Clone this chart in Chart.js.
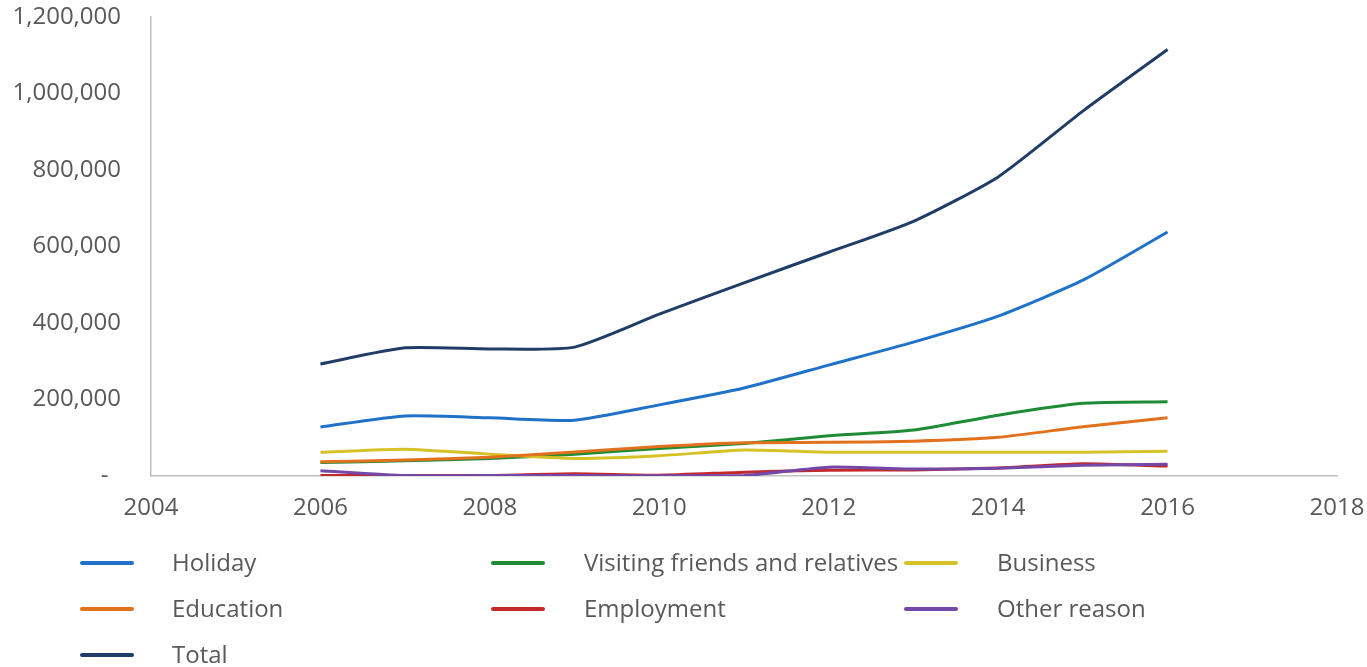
<!DOCTYPE html>
<html>
<head>
<meta charset="utf-8">
<script src="https://cdn.jsdelivr.net/npm/chart.js@4/dist/chart.umd.min.js"></script>
<style>
  html, body { margin: 0; padding: 0; background: #fff; }
  #wrap { position: relative; width: 1367px; height: 667px; }
  #c { position: absolute; left: 0; top: 0; }
  #legend { position: absolute; left: 0; top: 0; width: 1367px; height: 667px; pointer-events: none;
            font-family: "Open Sans", sans-serif; font-size: 24px; color: #595959; }
  .item { position: absolute; height: 34px; display: flex; align-items: center; white-space: nowrap; }
  .swatch { position: absolute; height: 4px; border-radius: 2px; }
</style>
</head>
<body>
<div id="wrap">
  <canvas id="c" width="1367" height="667"></canvas>
  <div id="legend"></div>
</div>
<script>
// ---- Data ----
const years = [2006, 2007, 2008, 2009, 2010, 2011, 2012, 2013, 2014, 2015, 2016];
const xTicks = [2004, 2006, 2008, 2010, 2012, 2014, 2016, 2018];
const yTicks = [0, 200000, 400000, 600000, 800000, 1000000, 1200000];

const holiday    = [128000, 157000, 152000, 146000, 186000, 230000, 290000, 350000, 418000, 512000, 638000];
const visiting   = [35000, 40000, 46000, 57000, 72000, 85000, 105000, 120000, 159000, 190000, 194000];
const business   = [62000, 70000, 57000, 46000, 53000, 68000, 62000, 62000, 62000, 62000, 65000];
const education  = [37000, 42000, 49000, 63000, 77000, 87000, 88000, 91000, 101000, 129000, 152000];
const employment = [1000, 1000, 1500, 6000, 2000, 10000, 15000, 16000, 21000, 32000, 26000];
const other      = [14000, 1000, 1000, 1000, 500, 1000, 23000, 18000, 20000, 28000, 31000];
const total      = [293000, 335000, 332000, 337000, 423000, 505000, 585000, 666000, 782000, 954000, 1115000];

const seriesNames = ["Holiday", "Visiting friends and relatives", "Business", "Education", "Employment", "Other reason", "Total"];
const seriesValues = [holiday, visiting, business, education, employment, other, total];
const seriesColors = ["#1F72C8", "#1E8B35", "#D6C227", "#E2711D", "#C3282B", "#7448A8", "#1F3D66"];

const datasets = seriesNames.map((name, i) => ({
  label: name,
  data: years.map((y, j) => ({ x: y, y: seriesValues[i][j] })),
  borderColor: seriesColors[i],
  backgroundColor: seriesColors[i],
  borderWidth: 3,
  pointRadius: 0,
  tension: 0.2,
  fill: false,
  order: seriesNames.length - i
}));

const tickFont = { family: "Open Sans", size: 24 };
const tickColor = "#595959";

const chart = new Chart(document.getElementById("c"), {
  type: "line",
  data: { datasets },
  options: {
    responsive: false,
    animation: false,
    layout: { padding: { left: 0, top: 17, right: 30, bottom: 0 } },
    plugins: { legend: { display: false }, tooltip: { enabled: false } },
    scales: {
      x: {
        type: "linear",
        min: xTicks[0],
        max: xTicks[xTicks.length - 1],
        afterBuildTicks: (s) => { s.ticks = xTicks.map(v => ({ value: v })); },
        ticks: { font: tickFont, color: tickColor, padding: 18, maxRotation: 0,
                 callback: (v) => String(v) },
        grid: { display: false, drawTicks: false },
        border: { display: true, color: "#BFBFBF", width: 1.5 },
        afterFit: (s) => { s.height = 667 - 476; s.paddingLeft = 0; s.paddingRight = 0; }
      },
      y: {
        min: 0,
        max: yTicks[yTicks.length - 1],
        afterBuildTicks: (s) => { s.ticks = yTicks.map(v => ({ value: v })); },
        ticks: { font: tickFont, color: tickColor, padding: 30,
                 callback: (v) => v === 0 ? "-  " : v.toLocaleString("en-US") },
        grid: { display: false, drawTicks: false },
        border: { display: true, color: "#BFBFBF", width: 1.5 },
        afterFit: (s) => { s.width = 151; s.paddingTop = 0; s.paddingBottom = 0; }
      }
    }
  }
});

// ---- HTML legend built from datasets ----
const legend = document.getElementById("legend");
const colSwatchX = [80, 491, 904];
const colTextX = [172, 584, 997];
const rowY = [563, 609, 655];
chart.data.datasets.forEach((d, i) => {
  const col = i % 3, row = Math.floor(i / 3);
  const sw = document.createElement("div");
  sw.className = "swatch";
  sw.style.left = colSwatchX[col] + "px";
  sw.style.width = "54px";
  sw.style.top = (rowY[row] - 2) + "px";
  sw.style.background = d.borderColor;
  legend.appendChild(sw);
  const it = document.createElement("div");
  it.className = "item";
  it.style.left = colTextX[col] + "px";
  it.style.top = (rowY[row] - 19) + "px";
  it.textContent = d.label;
  legend.appendChild(it);
});
</script>
</body>
</html>
